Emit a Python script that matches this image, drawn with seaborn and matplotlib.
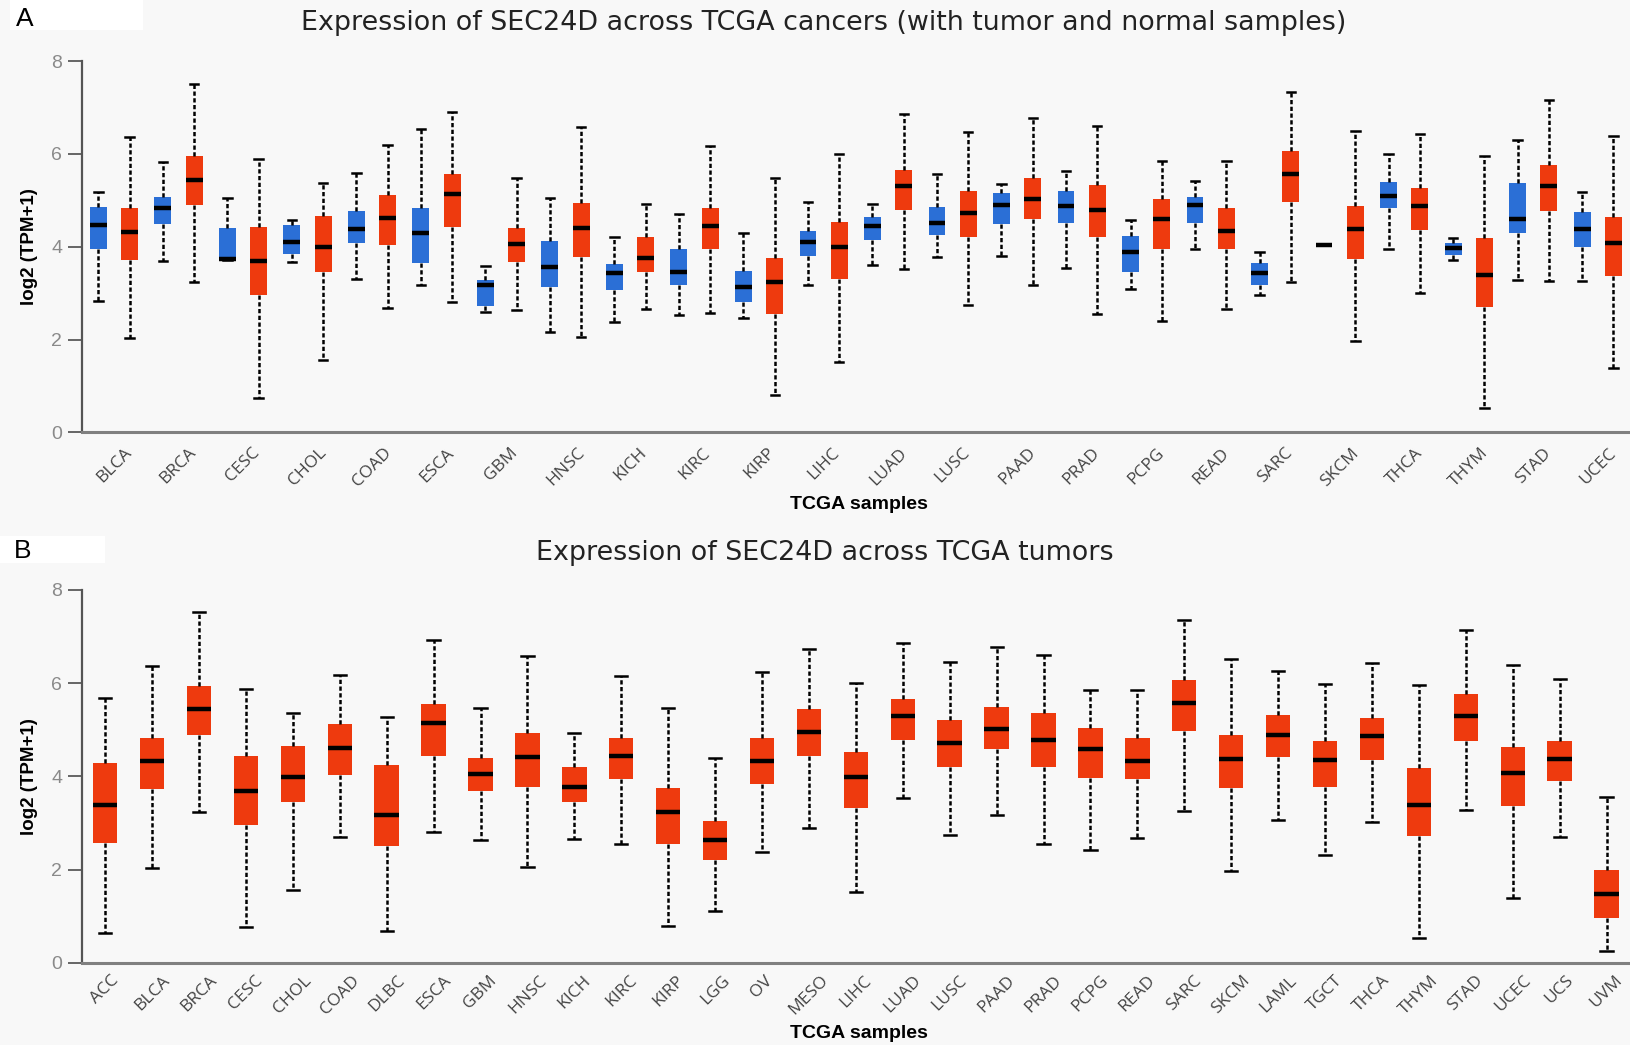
import numpy as np
import pandas as pd
import matplotlib
matplotlib.use("Agg")
import matplotlib.pyplot as plt
import seaborn as sns
from matplotlib.patches import Rectangle

# ---------------------------------------------------------------------------
# Panel A: SEC24D log2(TPM+1) in normal and tumor tissue, five-number summaries
# ---------------------------------------------------------------------------
cancers_a = ["BLCA", "BRCA", "CESC", "CHOL", "COAD", "ESCA", "GBM", "HNSC",
             "KICH", "KIRC", "KIRP", "LIHC", "LUAD", "LUSC", "PAAD", "PRAD",
             "PCPG", "READ", "SARC", "SKCM", "THCA", "THYM", "STAD", "UCEC"]

normal_min = [2.84, 3.69, 3.71, 3.68, 3.31, 3.18, 2.60, 2.16, 2.37, 2.52, 2.47, 3.17,
              3.61, 3.77, 3.81, 3.55, 3.09, 3.96, 2.95, 4.04, 3.96, 3.71, 3.29, 3.26]
normal_q1 = [3.96, 4.49, 3.71, 3.84, 4.08, 3.64, 2.73, 3.13, 3.06, 3.18, 2.81, 3.79,
             4.14, 4.26, 4.48, 4.52, 3.46, 4.52, 3.18, 4.04, 4.84, 3.83, 4.29, 3.99]
normal_med = [4.46, 4.84, 3.74, 4.11, 4.39, 4.29, 3.18, 3.56, 3.43, 3.46, 3.13, 4.11,
              4.44, 4.52, 4.89, 4.87, 3.89, 4.89, 3.43, 4.04, 5.09, 3.97, 4.59, 4.39]
normal_q3 = [4.85, 5.06, 4.40, 4.47, 4.76, 4.83, 3.28, 4.13, 3.63, 3.95, 3.47, 4.33,
             4.65, 4.85, 5.16, 5.21, 4.23, 5.06, 3.65, 4.04, 5.40, 4.08, 5.38, 4.74]
normal_max = [5.17, 5.82, 5.04, 4.58, 5.58, 6.54, 3.59, 5.04, 4.20, 4.70, 4.29, 4.97,
              4.93, 5.56, 5.36, 5.63, 4.58, 5.42, 3.89, 4.04, 6.00, 4.19, 6.30, 5.17]

tumor_min = [2.03, 3.24, 0.75, 1.56, 2.68, 2.81, 2.64, 2.05, 2.66, 2.57, 0.80, 1.51,
             3.51, 2.74, 3.17, 2.54, 2.41, 2.66, 3.24, 1.96, 3.01, 0.53, 3.26, 1.38]
tumor_q1 = [3.71, 4.89, 2.96, 3.45, 4.03, 4.43, 3.68, 3.78, 3.45, 3.94, 2.55, 3.31,
            4.79, 4.21, 4.59, 4.21, 3.96, 3.94, 4.97, 3.74, 4.36, 2.71, 4.77, 3.36]
tumor_med = [4.31, 5.44, 3.69, 3.99, 4.62, 5.14, 4.06, 4.41, 3.76, 4.44, 3.23, 3.99,
             5.30, 4.72, 5.02, 4.79, 4.59, 4.34, 5.57, 4.39, 4.87, 3.38, 5.30, 4.08]
tumor_q3 = [4.83, 5.95, 4.43, 4.66, 5.12, 5.57, 4.40, 4.94, 4.20, 4.83, 3.76, 4.54,
            5.66, 5.21, 5.48, 5.33, 5.03, 4.83, 6.06, 4.88, 5.26, 4.18, 5.77, 4.64]
tumor_max = [6.36, 7.51, 5.88, 5.38, 6.18, 6.91, 5.47, 6.58, 4.93, 6.16, 5.47, 6.00,
             6.86, 6.46, 6.78, 6.60, 5.85, 5.85, 7.34, 6.50, 6.43, 5.96, 7.15, 6.38]

# ---------------------------------------------------------------------------
# Panel B: SEC24D log2(TPM+1) across tumor types
# ---------------------------------------------------------------------------
cancers_b = ["ACC", "BLCA", "BRCA", "CESC", "CHOL", "COAD", "DLBC", "ESCA", "GBM",
             "HNSC", "KICH", "KIRC", "KIRP", "LGG", "OV", "MESO", "LIHC", "LUAD",
             "LUSC", "PAAD", "PRAD", "PCPG", "READ", "SARC", "SKCM", "LAML", "TGCT",
             "THCA", "THYM", "STAD", "UCEC", "UCS", "UVM"]

b_min = [0.63, 2.03, 3.24, 0.76, 1.55, 2.69, 0.68, 2.81, 2.63, 2.06, 2.66, 2.55, 0.79,
         1.11, 2.38, 2.89, 1.51, 3.53, 2.74, 3.17, 2.55, 2.41, 2.67, 3.25, 1.96, 3.06,
         2.32, 3.01, 0.53, 3.27, 1.38, 2.69, 0.25]
b_q1 = [2.57, 3.72, 4.89, 2.96, 3.45, 4.03, 2.50, 4.43, 3.68, 3.78, 3.45, 3.94, 2.55,
        2.20, 3.83, 4.44, 3.31, 4.79, 4.21, 4.59, 4.21, 3.96, 3.94, 4.97, 3.74, 4.41,
        3.78, 4.36, 2.71, 4.76, 3.36, 3.91, 0.96]
b_med = [3.38, 4.32, 5.45, 3.68, 3.98, 4.61, 3.16, 5.14, 4.06, 4.42, 3.77, 4.44, 3.23,
         2.63, 4.32, 4.95, 3.98, 5.29, 4.72, 5.02, 4.78, 4.58, 4.34, 5.57, 4.38, 4.89,
         4.36, 4.87, 3.38, 5.29, 4.08, 4.38, 1.47]
b_q3 = [4.28, 4.83, 5.95, 4.43, 4.65, 5.12, 4.25, 5.56, 4.40, 4.94, 4.20, 4.83, 3.76,
        3.04, 4.83, 5.44, 4.53, 5.65, 5.21, 5.48, 5.35, 5.03, 4.83, 6.06, 4.88, 5.32,
        4.76, 5.26, 4.17, 5.76, 4.63, 4.76, 1.99]
b_max = [5.68, 6.37, 7.52, 5.88, 5.37, 6.18, 5.27, 6.92, 5.47, 6.59, 4.94, 6.16, 5.47,
         4.40, 6.24, 6.73, 6.01, 6.86, 6.46, 6.78, 6.61, 5.85, 5.85, 7.35, 6.52, 6.27,
         5.98, 6.43, 5.96, 7.14, 6.38, 6.08, 3.55]

RED = "#ee3a0e"
BLUE = "#2b6fd6"
BG = "#f8f8f8"

# Long-form tables: five observations per box reproduce the five-number summary
rows_a = []
for i, c in enumerate(cancers_a):
    for grp, cols in (("Normal", (normal_min, normal_q1, normal_med, normal_q3, normal_max)),
                      ("Tumor", (tumor_min, tumor_q1, tumor_med, tumor_q3, tumor_max))):
        for col in cols:
            rows_a.append({"cancer": c, "group": grp, "value": col[i]})
df_a = pd.DataFrame(rows_a)

rows_b = []
for i, c in enumerate(cancers_b):
    for col in (b_min, b_q1, b_med, b_q3, b_max):
        rows_b.append({"cancer": c, "value": col[i]})
df_b = pd.DataFrame(rows_b)

fig = plt.figure(figsize=(16.3, 10.45), dpi=100, facecolor=BG)

ax_left = 81.7 / 1630
ax_a = fig.add_axes([ax_left, 1 - 432.4 / 1045, 1 - ax_left, (432.4 - 61) / 1045])
ax_b = fig.add_axes([ax_left, 1 - 962.7 / 1045, 1 - ax_left, (962.7 - 590) / 1045])

common = dict(
    whis=(0, 100), fliersize=0, linecolor="black", saturation=1,
    boxprops=dict(linewidth=0),
    medianprops=dict(color="black", linewidth=3.2),
    whiskerprops=dict(color="black", linewidth=1.8, linestyle=(0, (1.7, 1.0))),
    capprops=dict(color="black", linewidth=1.8),
)

sns.boxplot(data=df_a, x="cancer", y="value", hue="group", order=cancers_a,
            hue_order=["Normal", "Tumor"], palette={"Normal": BLUE, "Tumor": RED},
            width=0.97, gap=0.46, dodge=True, legend=False, ax=ax_a,
            capwidths=0.13, **common)

sns.boxplot(data=df_b, x="cancer", y="value", order=cancers_b, color=RED,
            width=0.52, ax=ax_b, capwidths=0.26, **common)

for ax, n, pad in ((ax_a, len(cancers_a), 9), (ax_b, len(cancers_b), 7)):
    ax.set_facecolor(BG)
    ax.set_xlim(-0.5, n - 0.5)
    ax.set_ylim(0, 8)
    ax.set_yticks([0, 2, 4, 6, 8])
    for s in ("top", "right"):
        ax.spines[s].set_visible(False)
    ax.spines["left"].set_color("#555555")
    ax.spines["left"].set_linewidth(1.6)
    ax.spines["bottom"].set_color("#808080")
    ax.spines["bottom"].set_linewidth(2.2)
    ax.tick_params(axis="y", length=10, width=1.4, color="#666666", pad=4,
                   labelsize=14, labelcolor="#8a8a8a")
    ax.tick_params(axis="x", length=0, pad=pad, labelsize=12.5, labelcolor="#444444")
    for lab in ax.get_yticklabels():
        lab.set_family("Liberation Sans")
    for lab in ax.get_xticklabels():
        lab.set_rotation(45)
        lab.set_ha("center")
        lab.set_va("top")
        lab.set_family("Open Sans")
    ax.set_ylabel("log2 (TPM+1)", fontsize=13.5, fontweight="bold", family="Liberation Sans")
    ax.set_xlabel("TCGA samples", fontsize=14, fontweight="bold", family="Liberation Sans")
    ax.yaxis.set_label_coords(-0.0282, 0.5)

ax_a.xaxis.set_label_coords(0.502, -0.172)
ax_b.xaxis.set_label_coords(0.502, -0.168)

# Panel letters on white tabs
fig.patches.append(Rectangle((10 / 1630, 1 - 30 / 1045), 133 / 1630, 30 / 1045,
                             transform=fig.transFigure, facecolor="white",
                             edgecolor="none", zorder=0))
fig.patches.append(Rectangle((0, 1 - 563 / 1045), 105 / 1630, 27 / 1045,
                             transform=fig.transFigure, facecolor="white",
                             edgecolor="none", zorder=0))
fig.text(25 / 1630, 1 - 18.5 / 1045, "A", fontsize=19, family="Liberation Sans",
         ha="center", va="center")
fig.text(23 / 1630, 1 - 551 / 1045, "B", fontsize=19, family="Liberation Sans",
         ha="center", va="center")

fig.text(824 / 1630, 1 - 23 / 1045,
         "Expression of SEC24D across TCGA cancers (with tumor and normal samples)",
         fontsize=19.4, family="DejaVu Sans", color="#222222", ha="center", va="center")
fig.text(825 / 1630, 1 - 553 / 1045, "Expression of SEC24D across TCGA tumors",
         fontsize=19.4, family="DejaVu Sans", color="#222222", ha="center", va="center")

fig.savefig("out.png", dpi=100, facecolor=BG)
